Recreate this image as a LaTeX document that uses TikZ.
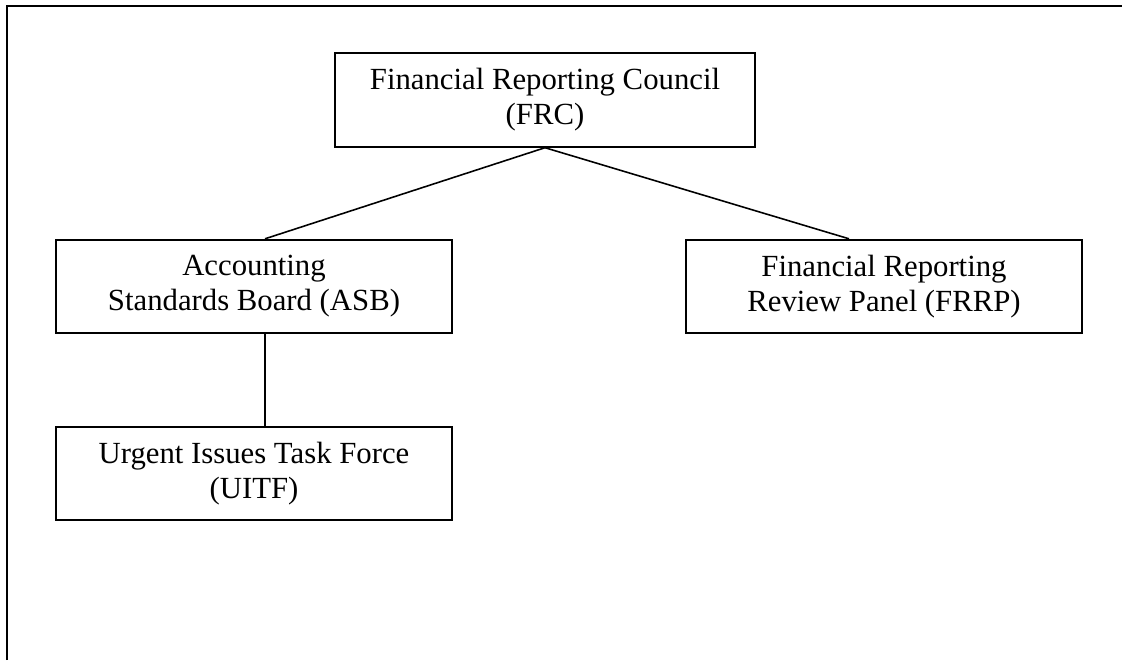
\documentclass[tikz,border=0pt]{standalone}
\usepackage{fontspec}
\setmainfont{Liberation Serif}
\tikzset{
  unit/.style={draw, line width=1.1pt, align=center, minimum height=1.87cm,
    inner sep=0pt, font=\fontsize{17.5}{20}\selectfont},
  link/.style={line width=0.9pt}
}
\begin{document}
\begin{tikzpicture}[x=0.02cm,y=-0.02cm]
  \useasboundingbox (0,0) rectangle (1125,660);
  % Page frame
  \draw[line width=1.4pt] (7,660) -- (7,6) -- (1122,6);
  % Council
  \node[unit,minimum width=8.4cm] (frc) at (545,100)
    {Financial Reporting Council\\(FRC)};
  % Board and panel
  \node[unit,minimum width=7.92cm] (asb) at (254,286.5)
    {Accounting\\Standards Board (ASB)};
  \node[unit,minimum width=7.92cm] (frrp) at (884,286.5)
    {Financial Reporting\\Review Panel (FRRP)};
  % Task force
  \node[unit,minimum width=7.92cm] (uitf) at (254,473.5)
    {Urgent Issues Task Force\\(UITF)};
  % Links
  \draw[link] (frc.south) -- ([xshift=0.22cm]asb.north);
  \draw[link] (frc.south) -- ([xshift=-0.7cm]frrp.north);
  \draw[link] ([xshift=0.22cm]asb.south) -- ([xshift=0.22cm]uitf.north);
\end{tikzpicture}
\end{document}
